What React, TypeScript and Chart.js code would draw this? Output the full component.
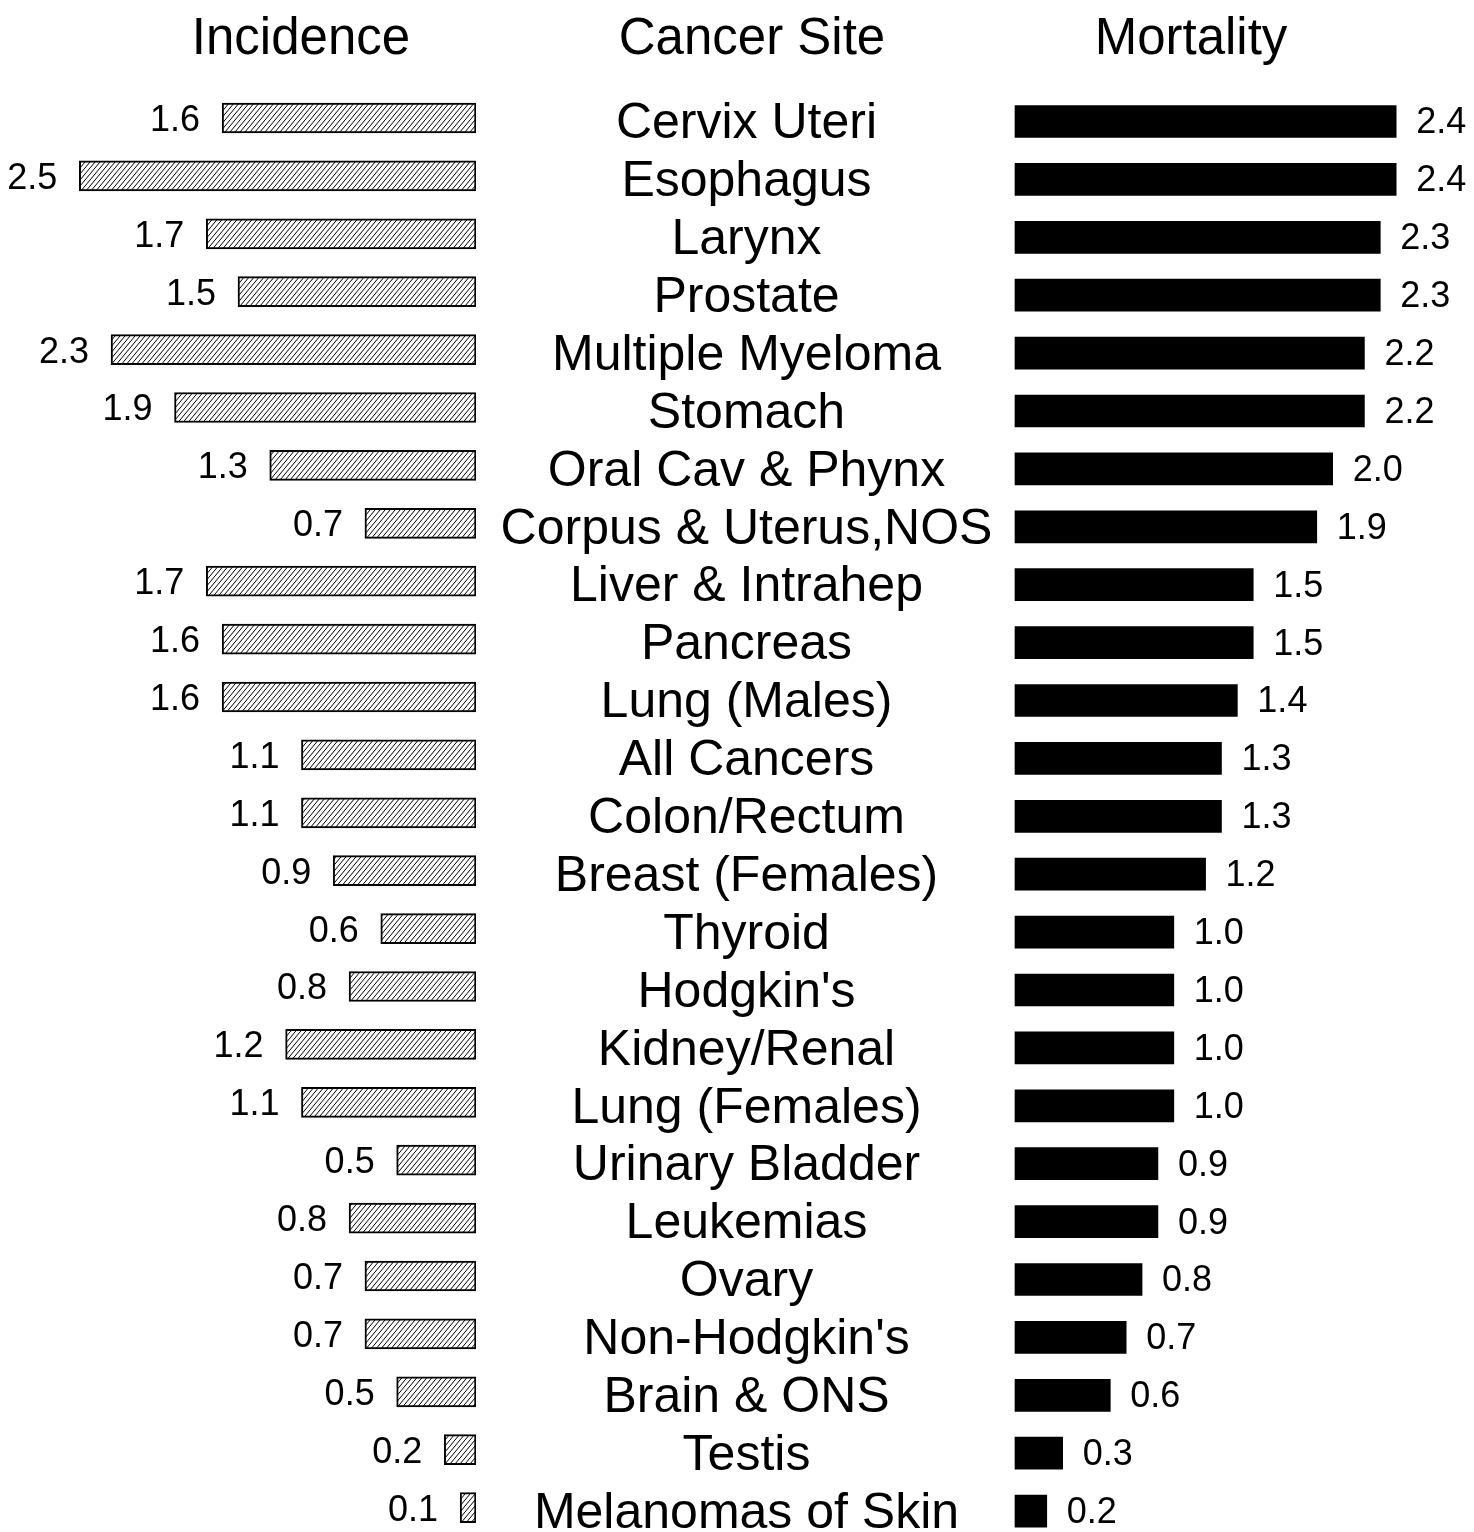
import React, { useEffect, useRef } from "react";
import { Chart, registerables } from "chart.js";

Chart.register(...registerables);

// ---- data ----
const sites = [
  "Cervix Uteri",
  "Esophagus",
  "Larynx",
  "Prostate",
  "Multiple Myeloma",
  "Stomach",
  "Oral Cav & Phynx",
  "Corpus & Uterus,NOS",
  "Liver & Intrahep",
  "Pancreas",
  "Lung (Males)",
  "All Cancers",
  "Colon/Rectum",
  "Breast (Females)",
  "Thyroid",
  "Hodgkin's",
  "Kidney/Renal",
  "Lung (Females)",
  "Urinary Bladder",
  "Leukemias",
  "Ovary",
  "Non-Hodgkin's",
  "Brain & ONS",
  "Testis",
  "Melanomas of Skin",
];

const incidence = [
  1.6, 2.5, 1.7, 1.5, 2.3, 1.9, 1.3, 0.7, 1.7, 1.6, 1.6, 1.1, 1.1, 0.9, 0.6,
  0.8, 1.2, 1.1, 0.5, 0.8, 0.7, 0.7, 0.5, 0.2, 0.1,
];

const mortality = [
  2.4, 2.4, 2.3, 2.3, 2.2, 2.2, 2.0, 1.9, 1.5, 1.5, 1.4, 1.3, 1.3, 1.2, 1.0,
  1.0, 1.0, 1.0, 0.9, 0.9, 0.8, 0.7, 0.6, 0.3, 0.2,
];

const incidenceTitle = "Incidence";
const siteTitle = "Cancer Site";
const mortalityTitle = "Mortality";

// ---- styling ----
const FONT = '"Liberation Sans", Arial, Helvetica, sans-serif';
const W = 1474;
const H = 1532;
const LEFT_W = 476; // left canvas width (incidence plot area ends here)
const RIGHT_X = 476; // right canvas left
const AXIS_W = 539; // category label column width
const LABEL_CX = 746.5; // centre of the category label column (page x)

function makeHatch(): CanvasPattern | string {
  const w = 5;
  const h = 6;
  const c = document.createElement("canvas");
  c.width = w;
  c.height = h;
  const g = c.getContext("2d");
  if (!g) return "#fff";
  g.fillStyle = "#fff";
  g.fillRect(0, 0, w, h);
  g.strokeStyle = "#000";
  g.lineWidth = 1;
  g.beginPath();
  g.moveTo(0, h);
  g.lineTo(w, 0);
  g.moveTo(-w, h);
  g.lineTo(0, 0);
  g.moveTo(w, h);
  g.lineTo(2 * w, 0);
  g.stroke();
  const p = g.createPattern(c, "repeat");
  return p || "#fff";
}

function headerPlugin(items: { text: string; x: number }[], offsetX: number) {
  return {
    id: "headers",
    afterDraw(chart: any) {
      const ctx = chart.ctx;
      ctx.save();
      ctx.fillStyle = "#000";
      ctx.font = `51px ${FONT}`;
      ctx.textAlign = "center";
      ctx.textBaseline = "alphabetic";
      items.forEach((it) => ctx.fillText(it.text, it.x - offsetX, 54));
      ctx.restore();
    },
  };
}

function valueLabelPlugin(values: number[], side: "left" | "right", gap: number, dy: number) {
  return {
    id: "valueLabels",
    afterDatasetsDraw(chart: any) {
      const ctx = chart.ctx;
      const meta = chart.getDatasetMeta(0);
      ctx.save();
      ctx.fillStyle = "#000";
      ctx.font = `36px ${FONT}`;
      ctx.textBaseline = "middle";
      ctx.textAlign = side === "left" ? "right" : "left";
      meta.data.forEach((bar: any, i: number) => {
        const x = side === "left" ? bar.x - gap : bar.x + gap;
        ctx.fillText(values[i].toFixed(1), x, bar.y + dy);
      });
      ctx.restore();
    },
  };
}

function categoryLabelPlugin(labels: string[], centerX: number, dy: number) {
  return {
    id: "categoryLabels",
    afterDraw(chart: any) {
      const ctx = chart.ctx;
      const yScale = chart.scales.y;
      ctx.save();
      ctx.fillStyle = "#000";
      ctx.font = `50px ${FONT}`;
      ctx.textBaseline = "middle";
      ctx.textAlign = "center";
      labels.forEach((lab, i) => {
        ctx.fillText(lab, centerX, yScale.getPixelForValue(i) + dy);
      });
      ctx.restore();
    },
  };
}

export default function App() {
  const leftRef = useRef<HTMLCanvasElement>(null);
  const rightRef = useRef<HTMLCanvasElement>(null);

  useEffect(() => {
    if (!leftRef.current || !rightRef.current) return;
    const hatch = makeHatch();

    const left = new Chart(leftRef.current, {
      type: "bar",
      data: {
        labels: sites,
        datasets: [
          {
            data: incidence,
            backgroundColor: hatch as any,
            borderColor: "#000",
            borderWidth: 2,
            borderSkipped: false,
            barThickness: 30,
            clip: false as any,
          },
        ],
      },
      options: {
        indexAxis: "y",
        responsive: false,
        animation: false,
        events: [],
        layout: { padding: { top: 118, bottom: H - (118 + 24 * 57.9), left: 0, right: 0 } },
        plugins: { legend: { display: false }, tooltip: { enabled: false }, title: { display: false } },
        scales: {
          x: { type: "linear", min: 0, max: 3, reverse: true, display: false },
          y: { type: "category", offset: false, display: false },
        },
      },
      plugins: [headerPlugin([{ text: incidenceTitle, x: 301 }], 0), valueLabelPlugin(incidence, "left", 22, 3)],
    });

    const right = new Chart(rightRef.current, {
      type: "bar",
      data: {
        labels: sites,
        datasets: [
          {
            data: mortality,
            backgroundColor: "#000",
            borderWidth: 0,
            barThickness: 32,
            clip: false as any,
          },
        ],
      },
      options: {
        indexAxis: "y",
        responsive: false,
        animation: false,
        events: [],
        layout: { padding: { top: 121.5, bottom: H - (121.5 + 24 * 57.9), left: AXIS_W, right: 0 } },
        plugins: { legend: { display: false }, tooltip: { enabled: false }, title: { display: false } },
        scales: {
          x: { type: "linear", min: 0, max: 2.89, display: false },
          y: { type: "category", offset: false, display: false },
        },
      },
      plugins: [
        headerPlugin(
          [
            { text: siteTitle, x: 752 },
            { text: mortalityTitle, x: 1191 },
          ],
          RIGHT_X
        ),
        categoryLabelPlugin(sites, LABEL_CX - RIGHT_X, 3),
        valueLabelPlugin(mortality, "right", 20, 2),
      ],
    });

    return () => {
      left.destroy();
      right.destroy();
    };
  }, []);

  return (
    <div style={{ position: "absolute", left: 0, top: 0, width: W, height: H, background: "#fff", overflow: "hidden" }}>
      <canvas
        ref={leftRef}
        width={LEFT_W}
        height={H}
        style={{ position: "absolute", left: 0, top: 0, width: LEFT_W, height: H, display: "block" }}
      />
      <canvas
        ref={rightRef}
        width={W - RIGHT_X}
        height={H}
        style={{ position: "absolute", left: RIGHT_X, top: 0, width: W - RIGHT_X, height: H, display: "block" }}
      />
    </div>
  );
}
